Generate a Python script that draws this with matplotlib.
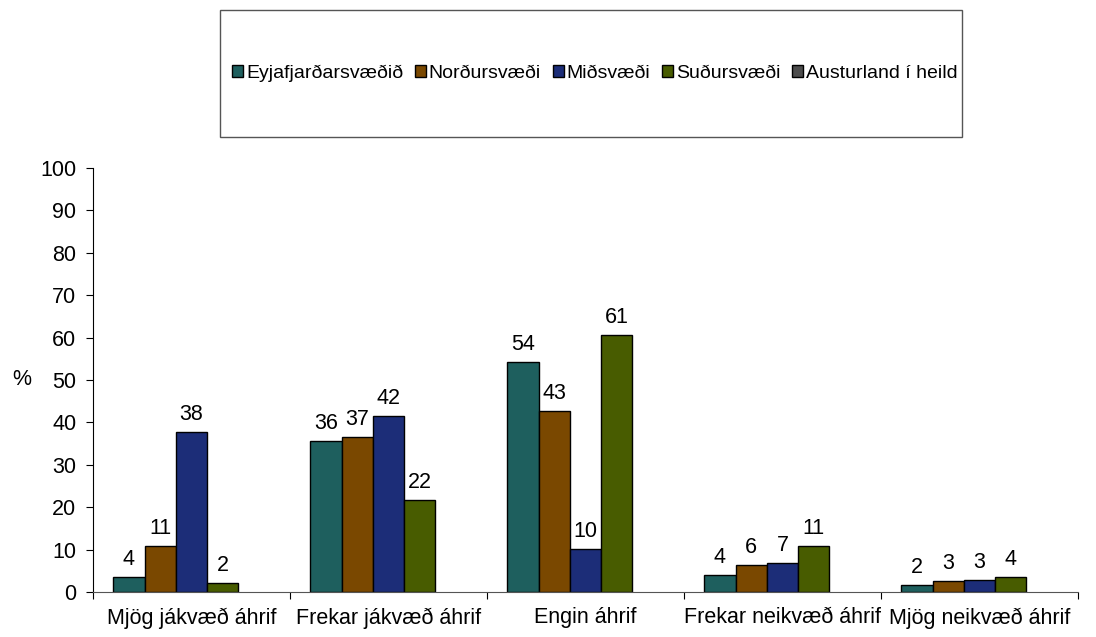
import matplotlib
matplotlib.use("Agg")
import matplotlib.pyplot as plt
import numpy as np
from matplotlib.patches import Rectangle

plt.rcParams['font.family'] = ['Liberation Sans', 'DejaVu Sans']

categories = ["Mjög jákvæð áhrif", "Frekar jákvæð áhrif", "Engin áhrif",
              "Frekar neikvæð áhrif", "Mjög neikvæð áhrif"]
series_names = ["Eyjafjarðarsvæðið", "Norðursvæði", "Miðsvæði", "Suðursvæði",
                "Austurland í heild"]
eyjafjordur = [3.6, 35.6, 54.2, 4.1, 1.6]
nordur = [10.8, 36.6, 42.7, 6.3, 2.6]
midsvaedi = [37.7, 41.6, 10.1, 6.9, 2.8]
sudur = [2.2, 21.6, 60.6, 10.8, 3.6]
austurland = [np.nan] * 5   # no bars shown for this series
colors = ["#1E5F5E", "#7A4800", "#1C2D78", "#485C00", "#4D4D4D"]

all_series = [eyjafjordur, nordur, midsvaedi, sudur, austurland]
fs = 15.5

fig = plt.figure(figsize=(10.96, 6.37), dpi=100)
ax = fig.add_axes([93/1096, 1 - 592/637, (1078 - 93)/1096, (592 - 168)/637])

x = np.arange(len(categories))
w = 0.159
for i, (vals, name, c) in enumerate(zip(all_series, series_names, colors)):
    bars = ax.bar(x + (i - 2) * w, vals, w, color=c, edgecolor="black",
                  linewidth=1, label=name)
    if not np.all(np.isnan(vals)):
        ax.bar_label(bars, fmt="%.0f", padding=5, fontsize=fs)

ax.set_xlim(-0.5, len(categories) - 0.5)
ax.set_ylim(0, 100)
ax.set_yticks(np.arange(0, 101, 10))
ax.tick_params(axis="y", direction="out", length=5, labelsize=fs, pad=7)

ax.set_xticks(np.arange(-0.5, len(categories)), labels=[""] * (len(categories) + 1))
ax.set_xticks(x, labels=categories, minor=True)
ax.tick_params(axis="x", which="major", direction="out", length=5)
ax.tick_params(axis="x", which="minor", length=0, labelsize=fs, pad=11)

for s in ["top", "right"]:
    ax.spines[s].set_visible(False)
ax.spines["bottom"].set_color("#555555")

ax.set_ylabel("%", rotation=0, fontsize=fs, va="center")
ax.yaxis.set_label_coords(-0.072, 0.5)

# legend box
fig.patches.append(Rectangle((220/1096, 1 - 137/637), 742/1096, 127/637,
                             transform=fig.transFigure, fill=False,
                             edgecolor="#555555", linewidth=1))
fig.legend(loc="center", bbox_to_anchor=(595/1096, 1 - 73/637), ncol=5,
           frameon=False, fontsize=14, handlelength=0.57, handleheight=0.57,
           handletextpad=0.15, columnspacing=0.6)

fig.savefig("out.png", dpi=100)
